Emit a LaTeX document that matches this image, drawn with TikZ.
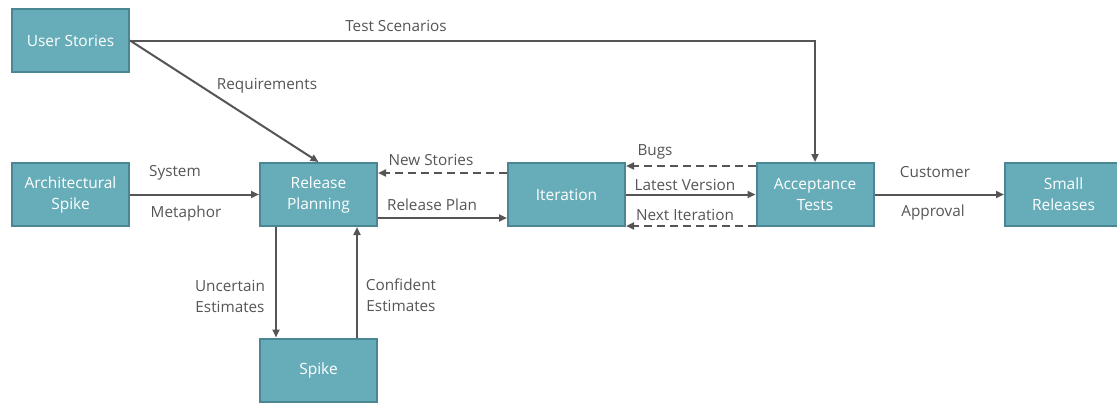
\documentclass[tikz,border=0pt]{standalone}
\usepackage{fontspec}
\setmainfont{Open Sans}
\usetikzlibrary{arrows.meta}
\definecolor{boxfill}{HTML}{67ADB9}
\definecolor{boxline}{HTML}{4A8792}
\definecolor{linec}{HTML}{555555}
\definecolor{labc}{HTML}{555555}
\tikzset{
  box/.style={draw=boxline, line width=2pt, fill=boxfill, text=white, minimum width=117pt, minimum height=63pt, inner sep=0pt, align=center, font=\fontsize{15.5}{21}\selectfont},
  conn/.style={draw=linec, line width=2pt, -{Triangle[length=8pt,width=7pt]}},
  dconn/.style={conn, dash pattern=on 8pt off 5pt},
  lab/.style={text=labc, inner sep=0pt, align=center, font=\fontsize{15.3}{21}\selectfont}
}
\begin{document}
\begin{tikzpicture}[x=1pt,y=-1pt]
\useasboundingbox (0,0) rectangle (1117,402);
\clip (0,0) rectangle (1117,402);
\node[box] (us) at (70.5,40.5) {User Stories};
\node[box] (as) at (70.5,194.5) {Architectural\\Spike};
\node[box] (rp) at (318.5,194.5) {Release\\Planning};
\node[box] (it) at (566.5,194.5) {Iteration};
\node[box] (at) at (815,194.5) {Acceptance\\Tests};
\node[box] (sr) at (1063.5,194.5) {Small\\Releases};
\node[box] (sp) at (318.5,370) {Spike};
% connectors
\draw[conn] (us.east) -| (at.north);
\draw[conn] (us.east) -- (rp.north);
\draw[conn] (as.east) -- (rp.west);
\draw[dconn] (it.west |- 0,173) -- (rp.east |- 0,173);
\draw[conn] (rp.east |- 0,218) -- (it.west |- 0,218);
\draw[dconn] (at.west |- 0,166) -- (it.east |- 0,166);
\draw[conn] (it.east) -- (at.west);
\draw[dconn] (at.west |- 0,226) -- (it.east |- 0,226);
\draw[conn] (at.east) -- (sr.west);
\draw[conn] (rp.south -| 276,0) -- (sp.north -| 276,0);
\draw[conn] (sp.north -| 357,0) -- (rp.south -| 357,0);
% labels
\node[lab] (l1) at (396,26) {Test Scenarios};
\node[lab] (l2) at (267,86) {Requirements};
\node[lab] (l3) at (175,173) {System};
\node[lab] (l4) at (186,214) {Metaphor};
\node[lab] (l5) at (431,160) {New Stories};
\node[lab] (l6) at (432,205) {Release Plan};
\node[lab] (l7) at (655,152) {Bugs};
\node[lab] (l8) at (685,185) {Latest Version};
\node[lab] (l9) at (685,215) {Next Iteration};
\node[lab] (l10) at (935,172) {Customer};
\node[lab] (l11) at (933,213) {Approval};
\node[lab] (l12) at (230,296) {Uncertain\\Estimates};
\node[lab] (l13) at (401,295) {Confident\\Estimates};
\end{tikzpicture}
\end{document}
